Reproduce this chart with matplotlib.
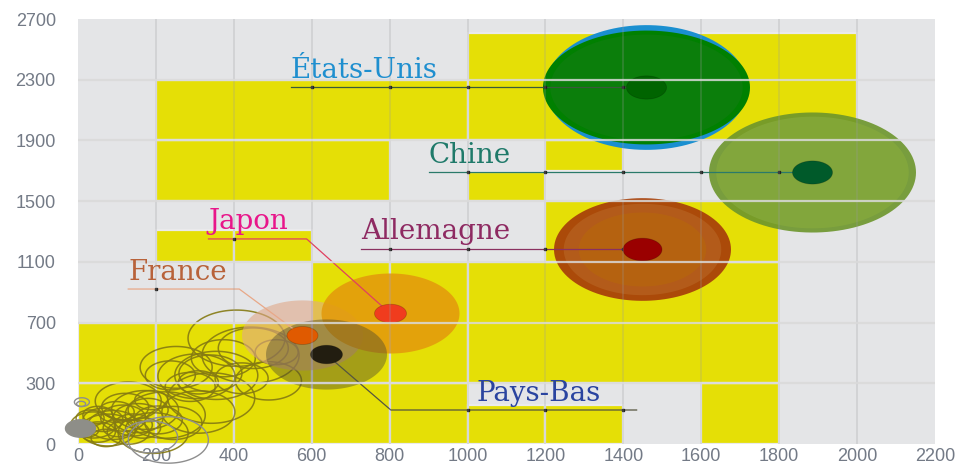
#! /usr/bin/python
# -*- coding: utf-8 -*-

import numpy as np
import matplotlib
matplotlib.use('Agg')
import matplotlib.pyplot as plt
from matplotlib.path import Path

# graduations (l'axe vertical est régulier par tranche, pas linéaire)
x_ticks = [0, 200, 400, 600, 800, 1000, 1200, 1400, 1600, 1800, 2000, 2200]
y_ticks = [0, 300, 700, 1100, 1500, 1900, 2300, 2700]

# pavés jaunes du fond
tuiles_x0 = [0, 200, 400, 600, 800, 1000, 1200, 1600,
             0, 200, 400, 600, 800, 1000,
             200, 400, 1200,
             200, 200, 1000, 1200, 1000]
tuiles_x1 = [200, 400, 600, 800, 1000, 1200, 1400, 1800,
             200, 400, 600, 800, 1000, 1800,
             400, 600, 1800,
             800, 1000, 1200, 1400, 2000]
tuiles_y0 = [0, 0, 0, 0, 0, 0, 0, 0,
             300, 300, 300, 300, 300, 300,
             1100, 1100, 1100,
             1500, 1900, 1500, 1700, 1900]
tuiles_y1 = [300, 300, 300, 300, 300, 195, 195, 300,
             700, 700, 700, 1100, 1100, 1100,
             1310, 1310, 1500,
             1900, 2300, 1690, 1900, 2610]

# pays mis en avant
pays = ['États-Unis', 'Chine', 'Allemagne', 'Japon', 'France', 'Pays-Bas']
pays_x = [1459, 1884, 1449, 800, 574, 636]
pays_y = [2252, 1692, 1185, 763, 618, 493]
taille_ext = [207, 207, 177, 138, 121, 121]
taille_int = [40, 40, 39, 32, 31, 32]

# autres pays (cercles vides)
autres_x = [407, 252, 304, 355, 443, 450, 373, 510, 129, 172, 224, 193, 309, 342,
            245, 309, 288, 340, 420, 489, 237, 121, 188,
            39, 64, 90, 116, 142, 51, 77, 103, 154, 31, 129, 167, 51, 21, 98,
            72, 206, 180]
autres_y = [597, 405, 346, 352, 485, 531, 465, 505, 212, 168, 143, 54, 158, 227,
            104, 306, 282, 366, 333, 316, 352, 183, 217,
            94, 119, 94, 128, 94, 59, 69, 79, 128, 128, 59, 79, 143, 69, 158,
            30, 119, 168]
autres_t = [97, 72, 77, 83, 97, 70, 64, 43, 66, 67, 80, 70, 73, 87,
            57, 40, 50, 63, 53, 66, 50, 47, 33,
            45, 40, 50, 45, 38, 35, 55, 30, 50, 28, 42, 35, 30, 25, 36,
            30, 48, 40]
gris_x = [185, 232, 10, 8]
gris_y = [35, 20, 207, 198]
gris_t = [55, 80, 15, 9]
gris_plein_x = [5]
gris_plein_y = [79]
gris_plein_t = [30]

# étiquettes
label_x = [546, 901, 726, 335, 129, 1024]
label_y = [2252, 1692, 1185, 1251, 921, 168]
coude_x = [None, None, None, 587, 414, 803]
label_fin = [None, None, None, None, None, 1434]

couleurs_label = ['#1f8fcf', '#1f7a6a', '#8e2a62', '#e8168a', '#b8623a', '#2a44a0']
couleurs_trait = ['#3a5a3a', '#2a7a6a', '#8a3060', '#e04060', '#e8a888', '#55553f']
couches = {
    'États-Unis': [(0.98, 0.615, '#1a8fd0', 1.0), (1.0, 0.55, '#008000', 1.0),
                   (0.93, 0.55, '#0b7e0b', 1.0)],
    'Chine': [(1.0, 0.58, '#6c952c', 0.9), (0.93, 0.58, '#86aa3c', 0.75)],
    'Allemagne': [(1.0, 0.58, '#a8420a', 0.95), (0.89, 0.58, '#b45e1c', 0.9),
                  (0.72, 0.58, '#b8680a', 0.6)],
    'Japon': [(1.0, 0.58, '#e39a0c', 0.88)],
    'France': [(1.0, 0.58, '#e0a888', 0.6)],
    'Pays-Bas': [(1.0, 0.58, '#4a4630', 0.42)],
}
couleurs_point = ['#006400', '#005a2a', '#9a0000', '#f03c1e', '#e05a00', '#221d10']
ordre = ['États-Unis', 'Chine', 'Allemagne', 'France', 'Japon', 'Pays-Bas']

PX = 72.0 / 100.0


def ellipse(aspect):
    t = np.linspace(0, 2 * np.pi, 120)
    return Path(np.column_stack([np.cos(t), aspect * np.sin(t)]), closed=True)


def fwd(v):
    return np.interp(v, y_ticks, np.arange(len(y_ticks)))


def inv(v):
    return np.interp(v, np.arange(len(y_ticks)), y_ticks)


fig = plt.figure(figsize=(9.59, 4.69), dpi=100)
ax = fig.add_axes([78 / 959, 25 / 469, (935 - 78) / 959, (444 - 19) / 469])
ax.set_facecolor('#e4e5e7')
ax.set_yscale('function', functions=(fwd, inv))
ax.set_xlim(0, 2200)
ax.set_ylim(0, 2700)

# fond
for x0, x1, y0, y1 in zip(tuiles_x0, tuiles_x1, tuiles_y0, tuiles_y1):
    ax.bar(x0, y1 - y0, width=x1 - x0, bottom=y0, align='edge', color='#e5df06',
           edgecolor='#eaeaec', linewidth=1.6, zorder=1)

m = ellipse(0.58)
ax.scatter(autres_x, autres_y, s=(np.array(autres_t) * PX) ** 2, marker=m,
           facecolors='none', edgecolors='#857a12', linewidths=1.1, alpha=0.9,
           zorder=2, clip_on=False)
ax.scatter(gris_x, gris_y, s=(np.array(gris_t) * PX) ** 2, marker=m,
           facecolors='none', edgecolors='#8e8e8e', linewidths=1.0, zorder=2,
           clip_on=False)
ax.scatter(gris_plein_x, gris_plein_y, s=(np.array(gris_plein_t) * PX) ** 2, marker=m,
           color='#8e8e88', zorder=2, clip_on=False)

# bulles
for nom in ordre:
    i = pays.index(nom)
    for k, (f, asp, c, a) in enumerate(couches[nom]):
        ax.scatter([pays_x[i]], [pays_y[i]], s=(taille_ext[i] * f * PX) ** 2,
                   marker=ellipse(asp), color=c, alpha=a, linewidths=0,
                   zorder=3 + k * 0.01)

# traits de rappel
for i, nom in enumerate(pays):
    if coude_x[i] is None:
        xs = [label_x[i], pays_x[i]]
        ys = [label_y[i], pays_y[i]]
        seg = (label_x[i], pays_x[i])
    elif label_fin[i] is None:
        xs = [label_x[i], coude_x[i], pays_x[i]]
        ys = [label_y[i], label_y[i], pays_y[i]]
        seg = (label_x[i], coude_x[i])
    else:
        xs = [label_fin[i], coude_x[i], pays_x[i]]
        ys = [label_y[i], label_y[i], pays_y[i]]
        seg = (coude_x[i], label_fin[i])
    ax.plot(xs, ys, color=couleurs_trait[i], lw=0.9, zorder=3.5)
    lo, hi = min(seg), max(seg)
    pts = [v for v in x_ticks if lo + 20 < v < hi - 20]
    ax.plot(pts, [label_y[i]] * len(pts), 's', ms=1.6, color='#222222', zorder=3.6)
    ax.annotate(nom, xy=(label_x[i], label_y[i]), xytext=(0, 2.5),
                textcoords='offset points', ha='left', va='bottom',
                fontsize=20, family='DejaVu Serif', color=couleurs_label[i],
                zorder=8)

for i, nom in enumerate(pays):
    ax.scatter([pays_x[i]], [pays_y[i]], s=(taille_int[i] * PX) ** 2, marker=m,
               color=couleurs_point[i], edgecolors='#00000033', linewidths=0.6,
               zorder=4)

# grille
for v in x_ticks[1:-1]:
    ax.axvline(v, color='#9a9a9a', lw=1.2, alpha=0.28, zorder=6)
for v in y_ticks[1:-1]:
    ax.axhline(v, color='#dadada', lw=1.6, alpha=0.85, zorder=6)

ax.set_xticks(x_ticks)
ax.set_yticks(y_ticks)
ax.set_yticklabels([str(v) for v in y_ticks])
ax.tick_params(length=0, labelsize=13, labelcolor='#737a86')
ax.tick_params(axis='y', pad=16)
ax.tick_params(axis='x', pad=3)
for lab in ax.get_xticklabels() + ax.get_yticklabels():
    lab.set_family('Liberation Sans')
for s in ax.spines.values():
    s.set_visible(False)

fig.savefig('out.png', dpi=100)
